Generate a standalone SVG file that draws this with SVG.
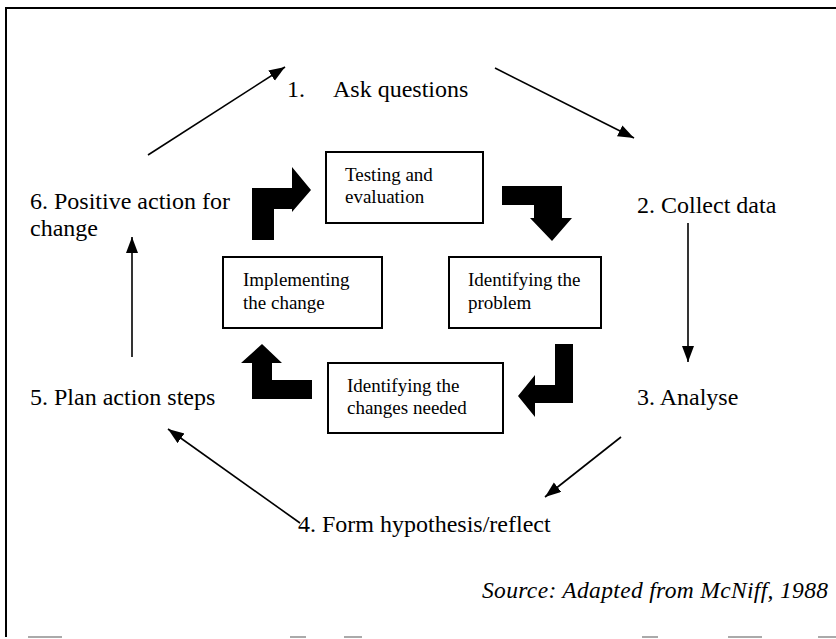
<svg xmlns="http://www.w3.org/2000/svg" width="836" height="639" viewBox="0 0 836 639">
<style>
.lbl{font-family:"Liberation Serif","Times New Roman",serif;font-size:24px;fill:#000}
.bx{font-family:"Liberation Serif","Times New Roman",serif;font-size:19px;fill:#000}
.box{fill:#fff;stroke:#000;stroke-width:2}
.con{stroke:#000;stroke-width:1.6;fill:none;marker-end:url(#ah)}
.big{fill:#000}
.src{font-family:"Liberation Serif","Times New Roman",serif;font-size:23.5px;font-style:italic;fill:#000}
</style>
<defs>
<marker id="ah" markerUnits="userSpaceOnUse" markerWidth="18" markerHeight="14" refX="16" refY="6" orient="auto">
<path d="M0,0 L16,6 L0,12 Z" fill="#000"/>
</marker>
</defs>
<rect width="836" height="639" fill="#fff"/>
<g id="frame">
<path d="M5,8 H836" stroke="#000" stroke-width="2"/>
<path d="M6,8 V637" stroke="#000" stroke-width="2"/>
<path d="M28,637 H62 M290,637 H306 M344,637 H362 M642,637 H658 M728,637 H762 M818,637 H836" stroke="#aaa" stroke-width="2"/>
</g>
<g id="connectors">
<path class="con" d="M148,155 L285,67"/>
<path class="con" d="M495,68 L634,138"/>
<path class="con" d="M688,223 L688,362"/>
<path class="con" d="M621,437 L545,497"/>
<path class="con" d="M300,523 L168,429"/>
<path class="con" d="M132,357 L132,237"/>
<path class="big" d="M252,240 V188 H292 V167 L311,190 L292,212 V209 H274 V240 Z"/>
<path class="big" d="M502,186 H562 V218 H572 L552,241 L530,218 H534 V205 H502 Z"/>
<path class="big" d="M555,344 H573 V403 H535 V417 L518,396 L535,375 V385 H555 Z"/>
<path class="big" d="M252,399 V363 H241 L262,344 L282,363 H272 V380 H312 V399 Z"/>
</g>
<g id="n1"><text class="lbl" x="287" y="97">1.</text><text class="lbl" x="333" y="97">Ask questions</text></g>
<g id="n2"><text class="lbl" x="637" y="213">2. Collect data</text></g>
<g id="n3"><text class="lbl" x="637" y="405">3. Analyse</text></g>
<g id="n4"><text class="lbl" x="298" y="532">4. Form hypothesis/reflect</text></g>
<g id="n5"><text class="lbl" x="30" y="405">5. Plan action steps</text></g>
<g id="n6"><text class="lbl" x="30" y="209">6. Positive action for</text><text class="lbl" x="30" y="236">change</text></g>
<g id="testing"><rect class="box" x="326" y="152" width="157" height="71"/><text class="bx" x="345" y="181">Testing and</text><text class="bx" x="345" y="203">evaluation</text></g>
<g id="implementing"><rect class="box" x="223" y="257" width="159" height="71"/><text class="bx" x="243" y="286">Implementing</text><text class="bx" x="243" y="309">the change</text></g>
<g id="problem"><rect class="box" x="449" y="257" width="152" height="71"/><text class="bx" x="468" y="286">Identifying the</text><text class="bx" x="468" y="309">problem</text></g>
<g id="changes"><rect class="box" x="328" y="363" width="175" height="70"/><text class="bx" x="347" y="392">Identifying the</text><text class="bx" x="347" y="414">changes needed</text></g>
<g id="source"><text class="src" x="482" y="598" textLength="346" lengthAdjust="spacing">Source: Adapted from McNiff, 1988</text></g>
</svg>
